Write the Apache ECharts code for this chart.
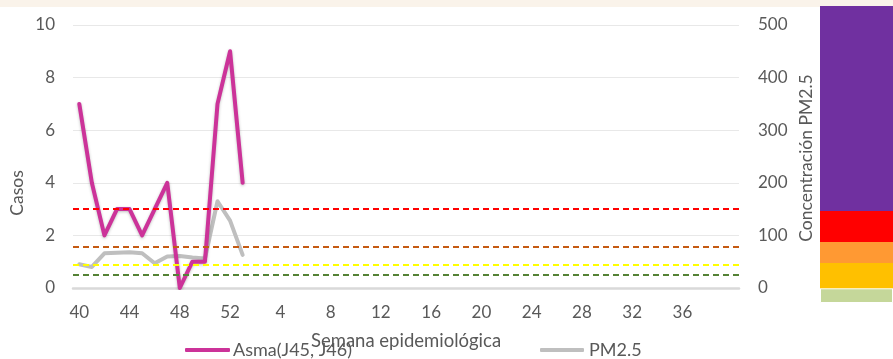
<!DOCTYPE html>
<html>
<head>
<meta charset="utf-8">
<script src="https://cdn.jsdelivr.net/npm/echarts@6/dist/echarts.min.js"></script>
<style>
  html, body { margin: 0; padding: 0; background: #fff; }
  #chart { width: 893px; height: 359px; }
</style>
</head>
<body>
<div id="chart"></div>
<script>
// semanas epidemiológicas 40..52 y 1..40
const weeks = [
  '40', '41', '42', '43', '44', '45', '46', '47', '48', '49', '50', '51', '52',
  '1', '2', '3', '4', '5', '6', '7', '8', '9', '10', '11', '12', '13', '14',
  '15', '16', '17', '18', '19', '20', '21', '22', '23', '24', '25', '26', '27',
  '28', '29', '30', '31', '32', '33', '34', '35', '36', '37', '38', '39', '40'
]
const asma = [7, 4, 2, 3, 3, 2, 3, 4, 0, 1, 1, 7, 9, 4]
const pm25 = [45, 40, 66, 67, 68, 66, 47, 60, 61, 58, 56, 165, 128, 63]

// umbrales de PM2.5 (eje derecho)
const limits = [150, 79, 45, 25]
const limitColors = ['#FF0000', '#C55A11', '#FFFF00', '#548235']

// barra de colores de calidad del aire (de abajo hacia arriba)
const bandValues = [28, 48, 40, 59, 390]
const bandColors = ['#C5D79A', '#FFC000', '#FF9933', '#FF0000', '#7030A0']

const FONT = 'Lato'
const TXT = '#595959'

const chart = echarts.init(document.getElementById('chart'))

chart.setOption({
  animation: false,
  textStyle: { fontFamily: FONT },
  grid: [
    { left: 73, right: 154, top: 25, bottom: 71 },
    { left: 820, right: 0, top: 6, bottom: 56 },
  ],
  legend: [
    {
      data: ['Asma(J45, J46)'],
      left: 185, top: 341, padding: 0,
      itemWidth: 45, itemHeight: 4, itemGap: 3,
      icon: 'roundRect',
      textStyle: { color: TXT, fontSize: 18, fontFamily: FONT, padding: [0, 0, 0, -2] },
    },
    {
      data: ['PM2.5'],
      left: 540, top: 341, padding: 0,
      itemWidth: 44, itemHeight: 4,
      icon: 'roundRect',
      textStyle: { color: TXT, fontSize: 18, fontFamily: FONT },
    },
  ],
  xAxis: [
    {
      type: 'category',
      gridIndex: 0,
      data: weeks,
      boundaryGap: true,
      name: 'Semana epidemiológica',
      nameLocation: 'middle',
      nameGap: 44,
      nameTextStyle: { color: TXT, fontSize: 18.5, fontFamily: FONT },
      axisLine: { lineStyle: { color: '#D9D9D9', width: 2.5 } },
      axisTick: { show: false },
      axisLabel: {
        interval: (idx) => idx % 4 === 0 && idx < 52,
        color: TXT, fontSize: 17, margin: 16, fontFamily: FONT,
      },
    },
    { type: 'category', gridIndex: 1, data: ['c'], show: false },
  ],
  yAxis: [
    {
      type: 'value',
      gridIndex: 0,
      min: 0, max: 10, interval: 2,
      axisLine: { show: false },
      axisTick: { show: false },
      axisLabel: { color: TXT, fontSize: 17, margin: 18, fontFamily: FONT },
      splitLine: { lineStyle: { color: '#E8E8E8', width: 1 } },
    },
    {
      type: 'value',
      gridIndex: 0,
      position: 'right',
      min: 0, max: 500, interval: 100,
      axisLine: { show: false },
      axisTick: { show: false },
      axisLabel: { color: TXT, fontSize: 17, margin: 19, fontFamily: FONT },
      splitLine: { show: false },
    },
    {
      type: 'value',
      gridIndex: 1,
      min: 0, max: 565,
      show: false,
    },
  ],
  graphic: [
    {
      type: 'rect', left: 0, top: 0, z: -10, silent: true,
      shape: { width: 893, height: 7 },
      style: { fill: '#FAF3EA' },
    },
    {
      type: 'text', x: 17, y: 193, rotation: Math.PI / 2,
      style: {
        text: 'Casos', fill: TXT, font: '17.5px ' + FONT,
        align: 'center', verticalAlign: 'middle',
      },
    },
    {
      type: 'text', x: 806, y: 158, rotation: Math.PI / 2,
      style: {
        text: 'Concentración PM2.5', fill: TXT, font: '17.5px ' + FONT,
        align: 'center', verticalAlign: 'middle',
      },
    },
  ],
  series: [
    {
      name: 'PM2.5',
      type: 'line',
      xAxisIndex: 0, yAxisIndex: 1,
      data: pm25,
      showSymbol: false,
      symbol: 'none',
      lineStyle: { color: '#BFBFBF', width: 4, cap: 'round', join: 'round' },
      itemStyle: { color: '#BFBFBF' },
      z: 3,
      markLine: {
        silent: true,
        symbol: 'none',
        label: { show: false },
        data: limits.map((v, i) => ({
          yAxis: v,
          lineStyle: { color: limitColors[i], width: 2, type: [6, 4] },
        })),
      },
    },
    {
      name: 'Asma(J45, J46)',
      type: 'line',
      xAxisIndex: 0, yAxisIndex: 0,
      data: asma,
      showSymbol: false,
      symbol: 'none',
      lineStyle: {
        color: '#CC3399', width: 4, cap: 'round', join: 'round',
        shadowBlur: 3, shadowColor: 'rgba(0,0,0,0.25)', shadowOffsetY: 1,
      },
      itemStyle: { color: '#CC3399' },
      z: 4,
    },
    // barra de categorías de PM2.5
    ...bandValues.map((v, i) => ({
      type: 'bar',
      xAxisIndex: 1, yAxisIndex: 2,
      stack: 'band',
      barWidth: '100%',
      data: [v],
      itemStyle: {
        color: bandColors[i],
        borderColor: i === 0 ? '#fff' : bandColors[i],
        borderWidth: i === 0 ? 1 : 0,
      },
      silent: true,
    })),
  ],
})
</script>
</body>
</html>
